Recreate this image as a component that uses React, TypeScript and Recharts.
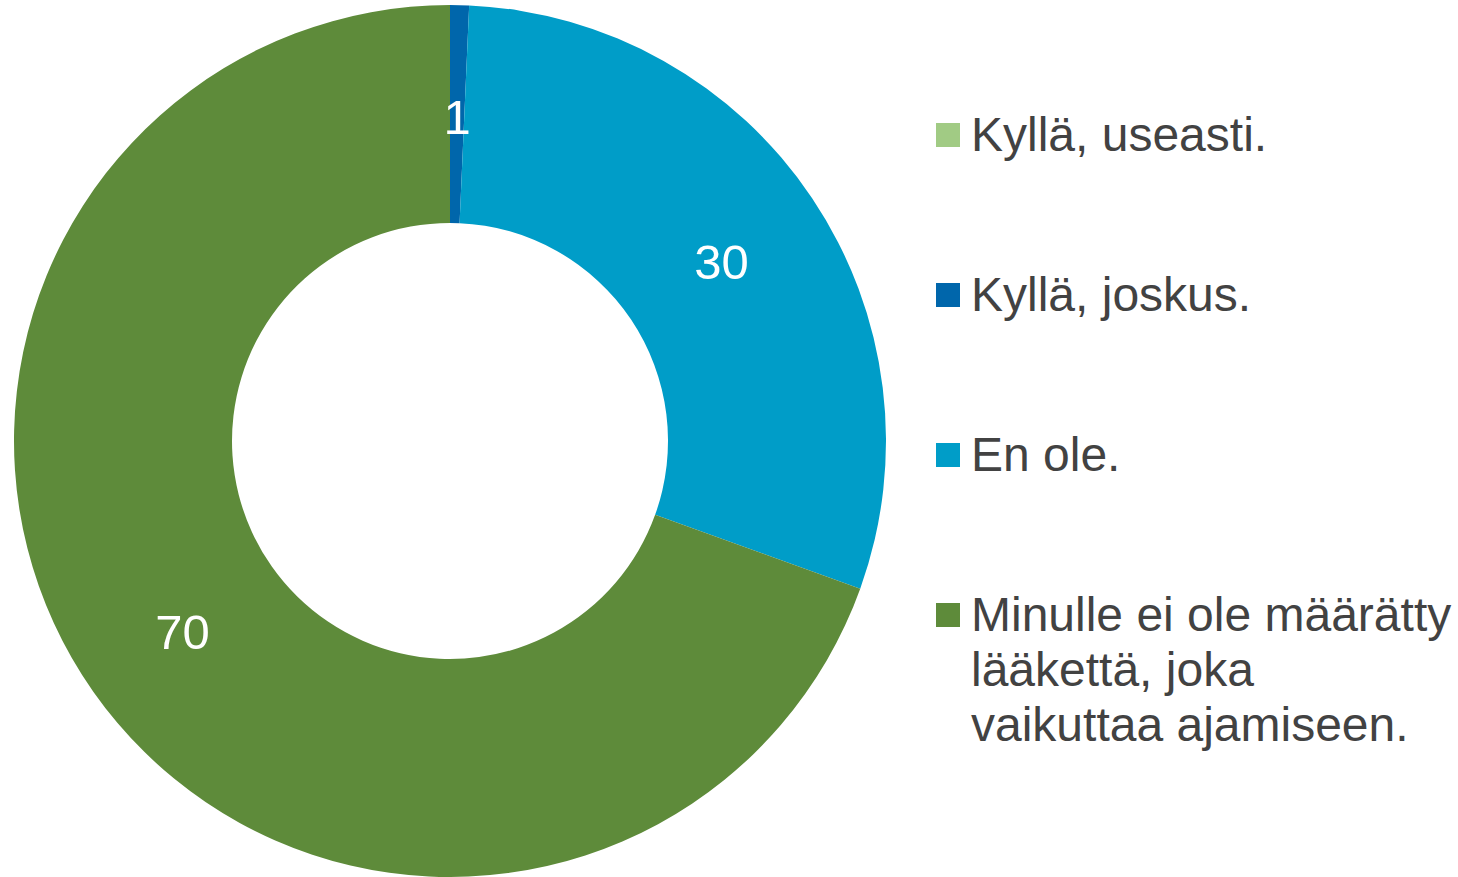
import { PieChart, Pie, Cell, Legend } from 'recharts'

const categories = [
  'Kyllä, useasti.',
  'Kyllä, joskus.',
  'En ole.',
  'Minulle ei ole määrätty lääkettä, joka vaikuttaa ajamiseen.',
]
const legendLines = [
  ['Kyllä, useasti.'],
  ['Kyllä, joskus.'],
  ['En ole.'],
  ['Minulle ei ole määrätty', 'lääkettä, joka', 'vaikuttaa ajamiseen.'],
]
const shares = [0, 0.7, 29.8, 69.5]
const colors = ['#A1CB84', '#0066AB', '#009DC8', '#5E8B3A']

const data = categories.map((name, i) => ({ name, value: shares[i] }))

const RADIAN = Math.PI / 180
const FONT = '"Liberation Sans", Arial, sans-serif'

function renderLabel(props: any) {
  const { cx, cy, midAngle, innerRadius, outerRadius, value } = props
  if (!value) return null
  const r = (innerRadius + outerRadius) / 2
  const x = cx + r * Math.cos(-midAngle * RADIAN)
  const y = cy + r * Math.sin(-midAngle * RADIAN) + 3
  return (
    <text
      x={x}
      y={y}
      fill="#ffffff"
      textAnchor="middle"
      dominantBaseline="central"
      fontSize={49}
      fontFamily={FONT}
    >
      {Math.round(value)}
    </text>
  )
}

function LegendContent() {
  return (
    <div style={{ fontFamily: FONT, color: '#424242', fontSize: 48, lineHeight: '55px' }}>
      {legendLines.map((lines, i) => (
        <div key={i} style={{ display: 'flex', alignItems: 'flex-start', height: 160 }}>
          <div style={{ width: 24, height: 24, marginTop: 16, marginRight: 11, background: colors[i], flex: 'none' }} />
          <div style={{ whiteSpace: 'nowrap' }}>
            {lines.map((l) => (
              <div key={l}>{l}</div>
            ))}
          </div>
        </div>
      ))}
    </div>
  )
}

export default function App() {
  return (
    <div style={{ position: 'absolute', left: 0, top: 0, width: 1458, height: 877, background: '#fff' }}>
      <PieChart width={1458} height={877} margin={{ top: 0, right: 0, bottom: 0, left: 0 }}>
        <Pie
          data={data}
          dataKey="value"
          nameKey="name"
          cx={450}
          cy={441}
          innerRadius={218}
          outerRadius={436}
          startAngle={90}
          endAngle={-270}
          stroke="none"
          label={renderLabel}
          labelLine={false}
          isAnimationActive={false}
        >
          {data.map((d, i) => (
            <Cell key={d.name} fill={colors[i]} />
          ))}
        </Pie>
        <Legend
          content={<LegendContent />}
          wrapperStyle={{ position: 'absolute', left: 936, top: 107, width: 520, bottom: 'auto' }}
        />
      </PieChart>
    </div>
  )
}
